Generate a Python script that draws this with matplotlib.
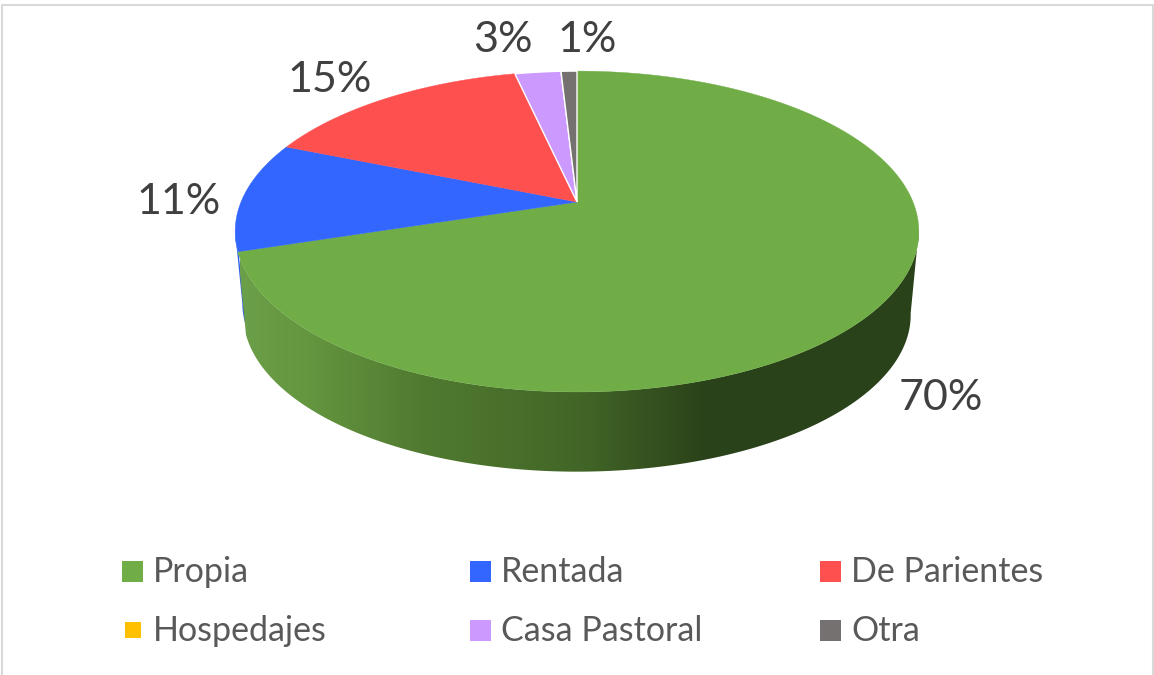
import numpy as np
import matplotlib
matplotlib.use('Agg')
import matplotlib.pyplot as plt
from matplotlib.colors import LinearSegmentedColormap
from matplotlib.patches import Polygon, Rectangle

categories = ['Propia', 'Rentada', 'De Parientes', 'Hospedajes', 'Casa Pastoral', 'Otra']
values = [70.1, 11.1, 15.3, 0.0, 2.6, 0.9]
colors = ['#70AD47', '#3366FF', '#FF5050', '#FFC000', '#CC99FF', '#767171']
pct_labels = ['70%', '11%', '15%', '', '3%', '1%']

# where the percent labels and legend rows sit, in pixels
label_pos = [(941, 398), (179, 202), (330, 80), None, (503, 40), (587, 40)]
legend_x = [122, 470, 820]
legend_text_x = [153, 501, 851]
legend_y = [572, 631]
marker_y = [571, 630]

plt.rcParams['font.family'] = ['Lato', 'DejaVu Sans']


def rim(theta, cx, cy, a, b, k=0.184):
    # circle seen in perspective, theta clockwise from the top
    x = np.sin(theta)
    y = np.cos(theta)
    d = 1 + k * y
    return cx + a * x / d, cy - b * y / d


def top(theta):
    return rim(theta, 577, 202, 336, 155)


def bottom(theta):
    return rim(theta, 577, 286, 328, 151.5)


fig = plt.figure(figsize=(11.54, 6.75), dpi=100)
ax = fig.add_axes([0, 0, 1, 1])
ax.set_axis_off()

edges = np.cumsum([0] + values) / sum(values) * 2 * np.pi

# blue sliver of the side wall, behind the green one
t = np.linspace(edges[1] - 0.02, edges[1] + 0.12, 30)
xa, ya = top(t)
xb, yb = bottom(t[::-1])
ax.add_patch(Polygon(np.column_stack([np.r_[xa, xb - 1], np.r_[ya, yb - 12]]),
                     fc='#2f5fe8', ec='none', zorder=1))

# green side wall with its shading
t = np.linspace(np.radians(100), edges[1], 200)
xa, ya = top(t)
xb, yb = bottom(t[::-1])
side = Polygon(np.column_stack([np.r_[xa, xb], np.r_[ya, yb]]),
               fc='none', ec='none', transform=ax.transData)
ax.add_patch(side)
shade = LinearSegmentedColormap.from_list('shade', [
    (0.0, '#6C9F49'), (0.10, '#64953F'), (0.27, '#507A30'),
    (0.50, '#426627'), (0.68, '#2B431A'), (1.0, '#2A421A')])
grad = np.linspace(0, 1, 512).reshape(1, -1)
im = ax.imshow(grad, cmap=shade, extent=(240, 920, 480, 200), aspect='auto', zorder=2)
im.set_clip_path(side)

# top face
for i in range(len(values)):
    if values[i] == 0:
        continue
    t = np.linspace(edges[i], edges[i + 1], 200)
    xa, ya = top(t)
    pts = np.column_stack([np.r_[577, xa], np.r_[202, ya]])
    ax.add_patch(Polygon(pts, fc=colors[i], ec='white' if i >= 4 else colors[i],
                         lw=1.0 if i >= 4 else 0.3, zorder=3))

for txt, pos in zip(pct_labels, label_pos):
    if pos:
        ax.text(pos[0], pos[1], txt, fontsize=31, color='#404040',
                ha='center', va='center', zorder=5)

# legend
for i, name in enumerate(categories):
    row = i // 3
    col = i % 3
    w = 21
    x0 = legend_x[col]
    if name == 'Hospedajes':
        w = 16
        x0 = x0 + 3
    ax.add_patch(Rectangle((x0, marker_y[row] - w / 2), w, w, fc=colors[i], ec='none', zorder=5))
    ax.text(legend_text_x[col], legend_y[row], name, fontsize=24.5, color='#595959',
            ha='left', va='center', zorder=5)

# chart frame, no bottom edge in the picture
ax.plot([1.5, 1.5, 1152.5, 1152.5], [675, 4.5, 4.5, 675], color='#D9D9D9', lw=1.5, zorder=6)

ax.set_xlim(0, 1154)
ax.set_ylim(675, 0)
fig.savefig('out.png', dpi=100)
